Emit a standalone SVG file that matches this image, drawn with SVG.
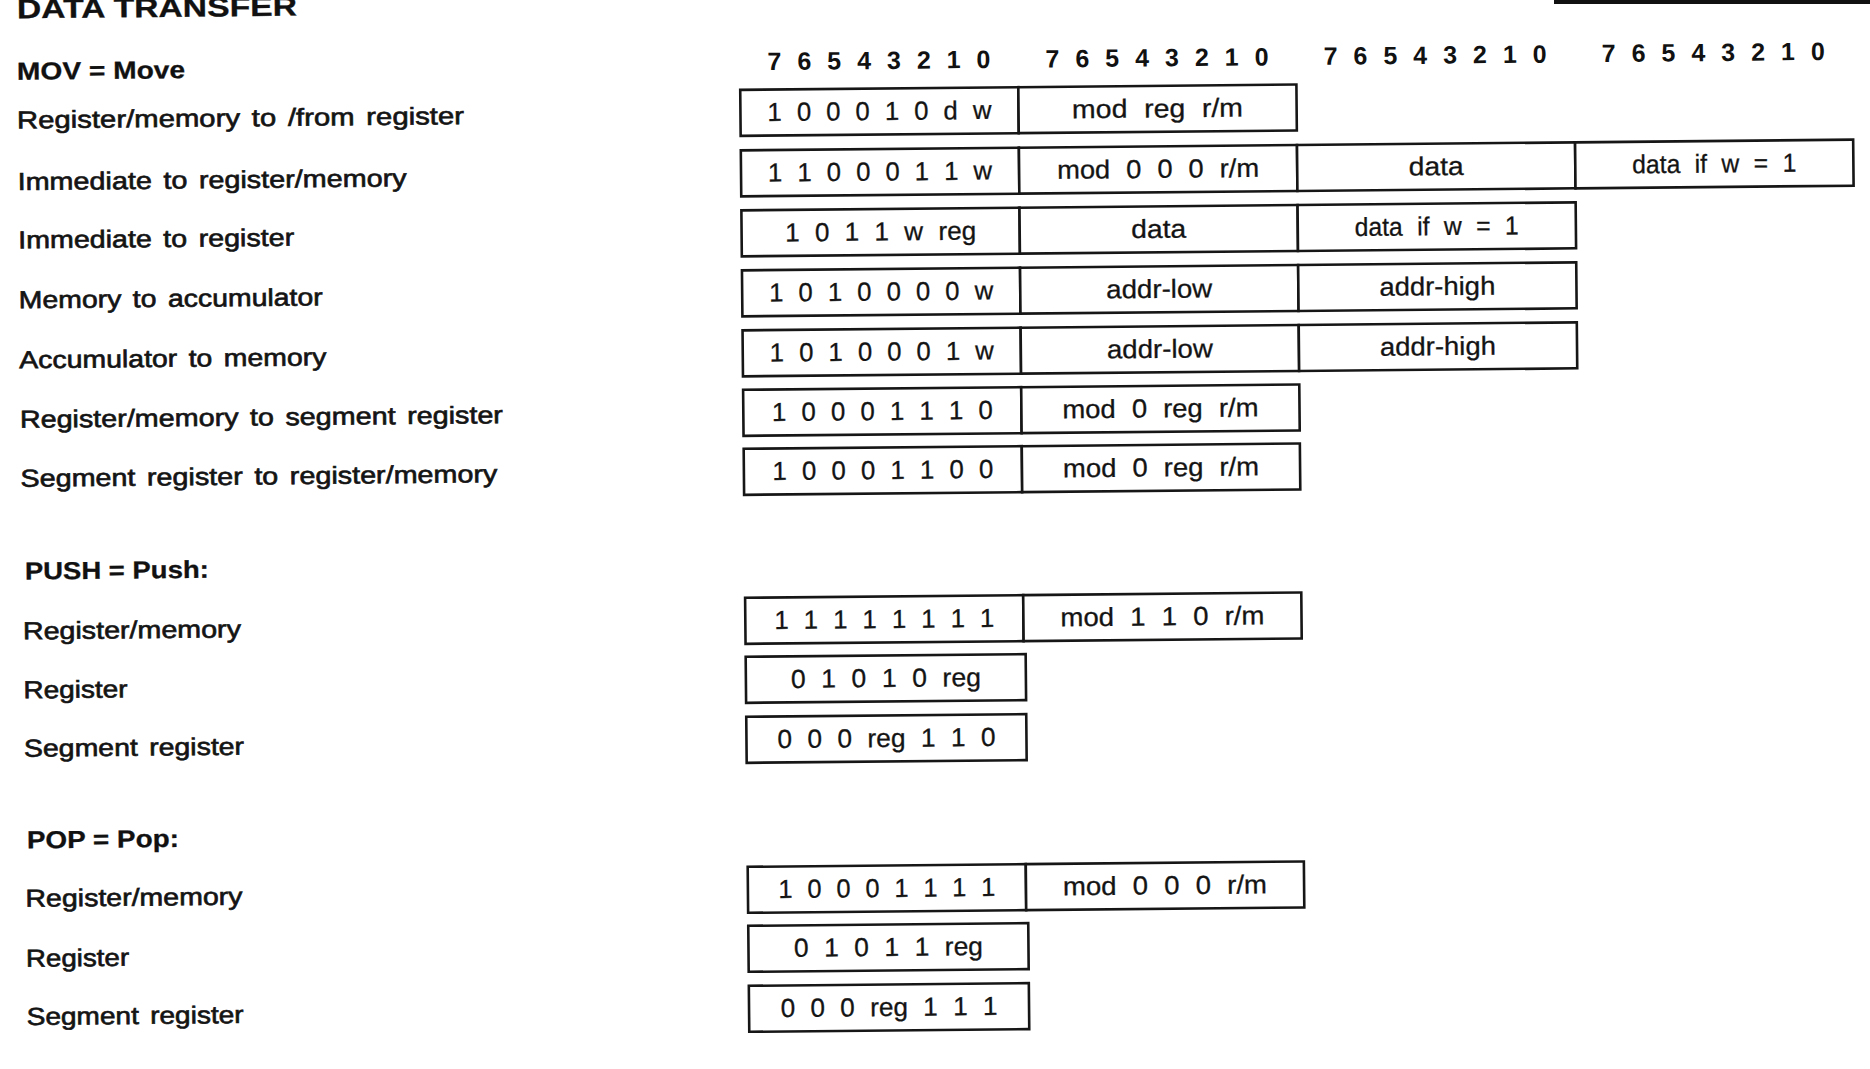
<svg xmlns="http://www.w3.org/2000/svg" width="1870" height="1069" viewBox="0 0 1870 1069">
  <style>
    .bg { fill: #ffffff; }
    .box { fill: #ffffff; stroke: #161616; stroke-width: 2.6; }
    .bits { font-family: "Liberation Sans", Arial, sans-serif; font-size: 26px; fill: #141414; stroke: #141414; stroke-width: 0.3; text-anchor: middle; word-spacing: 8px; }
    .hdr { font-family: "Liberation Sans", Arial, sans-serif; font-size: 25px; font-weight: bold; fill: #111; text-anchor: middle; }
    .lbl { font-family: "Liberation Sans", Arial, sans-serif; font-size: 24.5px; fill: #141414; stroke: #141414; stroke-width: 0.65; word-spacing: 3px; }
    .sec { font-family: "Liberation Sans", Arial, sans-serif; font-size: 24.5px; font-weight: bold; fill: #111; stroke: #111; stroke-width: 0.3; }
    .title { font-family: "Liberation Sans", Arial, sans-serif; font-size: 27px; font-weight: bold; fill: #111; stroke: #111; stroke-width: 0.3; }
    .rule { fill: #111; }
  </style>

  <rect class="bg" x="0" y="0" width="1870" height="1069"/>

  <!-- rule at the top right edge of the sheet -->
  <rect class="rule" x="1554" y="0" width="316" height="4"/>

  <!-- the printed sheet sits a little askew -->
  <g id="sheet" transform="rotate(-0.55 935 534)">

    <text class="title" x="22" y="9.5" textLength="280" lengthAdjust="spacingAndGlyphs">DATA TRANSFER</text>

    <!-- bit numbering above the four byte columns -->
    <g id="bit-header">
      <text class="hdr" x="883.5" y="68.5" textLength="223" lengthAdjust="spacing">7 6 5 4 3 2 1 0</text>
      <text class="hdr" x="1161.6" y="68.5" textLength="223" lengthAdjust="spacing">7 6 5 4 3 2 1 0</text>
      <text class="hdr" x="1439.7" y="68.5" textLength="223" lengthAdjust="spacing">7 6 5 4 3 2 1 0</text>
      <text class="hdr" x="1717.8" y="68.5" textLength="223" lengthAdjust="spacing">7 6 5 4 3 2 1 0</text>
    </g>

    <!-- MOV -->
    <text class="sec" x="21.5" y="71" textLength="168" lengthAdjust="spacingAndGlyphs">MOV = Move</text>

    <g id="mov-rm-reg">
      <text class="lbl" x="21" y="119.6" textLength="447" lengthAdjust="spacingAndGlyphs">Register/memory to /from register</text>
      <rect class="box" x="744.5" y="88" width="278.1" height="46"/>
      <rect class="box" x="1022.6" y="88" width="278.1" height="46"/>
      <text class="bits" x="883.5" y="119.5" textLength="224" lengthAdjust="spacingAndGlyphs">1 0 0 0 1 0 d w</text>
      <text class="bits" x="1161.6" y="119.5" textLength="171" lengthAdjust="spacingAndGlyphs">mod reg r/m</text>
    </g>

    <g id="mov-imm-rm">
      <text class="lbl" x="21" y="181.3" textLength="389" lengthAdjust="spacingAndGlyphs">Immediate to register/memory</text>
      <rect class="box" x="744.5" y="148.5" width="278.1" height="46"/>
      <rect class="box" x="1022.6" y="148.5" width="278.1" height="46"/>
      <rect class="box" x="1300.7" y="148.5" width="278.1" height="46"/>
      <rect class="box" x="1578.8" y="148.5" width="278.1" height="46"/>
      <text class="bits" x="883.5" y="180" textLength="224" lengthAdjust="spacingAndGlyphs">1 1 0 0 0 1 1 w</text>
      <text class="bits" x="1161.6" y="180" textLength="202" lengthAdjust="spacingAndGlyphs">mod 0 0 0 r/m</text>
      <text class="bits" x="1439.7" y="180" textLength="55" lengthAdjust="spacingAndGlyphs">data</text>
      <text class="bits" x="1717.8" y="180" textLength="164" lengthAdjust="spacingAndGlyphs">data if w = 1</text>
    </g>

    <g id="mov-imm-reg">
      <text class="lbl" x="21" y="239.6" textLength="276" lengthAdjust="spacingAndGlyphs">Immediate to register</text>
      <rect class="box" x="744.5" y="208.5" width="278.1" height="46"/>
      <rect class="box" x="1022.6" y="208.5" width="278.1" height="46"/>
      <rect class="box" x="1300.7" y="208.5" width="278.1" height="46"/>
      <text class="bits" x="883.5" y="240" textLength="191" lengthAdjust="spacingAndGlyphs">1 0 1 1 w reg</text>
      <text class="bits" x="1161.6" y="240" textLength="55" lengthAdjust="spacingAndGlyphs">data</text>
      <text class="bits" x="1439.7" y="240" textLength="164" lengthAdjust="spacingAndGlyphs">data if w = 1</text>
    </g>

    <g id="mov-mem-acc">
      <text class="lbl" x="21" y="299.5" textLength="304" lengthAdjust="spacingAndGlyphs">Memory to accumulator</text>
      <rect class="box" x="744.5" y="268.5" width="278.1" height="46"/>
      <rect class="box" x="1022.6" y="268.5" width="278.1" height="46"/>
      <rect class="box" x="1300.7" y="268.5" width="278.1" height="46"/>
      <text class="bits" x="883.5" y="300" textLength="224" lengthAdjust="spacingAndGlyphs">1 0 1 0 0 0 0 w</text>
      <text class="bits" x="1161.6" y="300" textLength="106" lengthAdjust="spacingAndGlyphs">addr-low</text>
      <text class="bits" x="1439.7" y="300" textLength="116" lengthAdjust="spacingAndGlyphs">addr-high</text>
    </g>

    <g id="mov-acc-mem">
      <text class="lbl" x="21" y="359.5" textLength="307" lengthAdjust="spacingAndGlyphs">Accumulator to memory</text>
      <rect class="box" x="744.5" y="328.5" width="278.1" height="46"/>
      <rect class="box" x="1022.6" y="328.5" width="278.1" height="46"/>
      <rect class="box" x="1300.7" y="328.5" width="278.1" height="46"/>
      <text class="bits" x="883.5" y="360" textLength="224" lengthAdjust="spacingAndGlyphs">1 0 1 0 0 0 1 w</text>
      <text class="bits" x="1161.6" y="360" textLength="106" lengthAdjust="spacingAndGlyphs">addr-low</text>
      <text class="bits" x="1439.7" y="360" textLength="116" lengthAdjust="spacingAndGlyphs">addr-high</text>
    </g>

    <g id="mov-rm-seg">
      <text class="lbl" x="21" y="419" textLength="483" lengthAdjust="spacingAndGlyphs">Register/memory to segment register</text>
      <rect class="box" x="744.5" y="388" width="278.1" height="46"/>
      <rect class="box" x="1022.6" y="388" width="278.1" height="46"/>
      <text class="bits" x="883.5" y="419.5" textLength="221" lengthAdjust="spacingAndGlyphs">1 0 0 0 1 1 1 0</text>
      <text class="bits" x="1161.6" y="419.5" textLength="196" lengthAdjust="spacingAndGlyphs">mod 0 reg r/m</text>
    </g>

    <g id="mov-seg-rm">
      <text class="lbl" x="21" y="478" textLength="477" lengthAdjust="spacingAndGlyphs">Segment register to register/memory</text>
      <rect class="box" x="744.5" y="447" width="278.1" height="46"/>
      <rect class="box" x="1022.6" y="447" width="278.1" height="46"/>
      <text class="bits" x="883.5" y="478.5" textLength="221" lengthAdjust="spacingAndGlyphs">1 0 0 0 1 1 0 0</text>
      <text class="bits" x="1161.6" y="478.5" textLength="196" lengthAdjust="spacingAndGlyphs">mod 0 reg r/m</text>
    </g>

    <!-- PUSH -->
    <text class="sec" x="24.5" y="570.8" textLength="184" lengthAdjust="spacingAndGlyphs">PUSH = Push:</text>

    <g id="push-rm">
      <text class="lbl" x="22" y="630.6" textLength="218" lengthAdjust="spacingAndGlyphs">Register/memory</text>
      <rect class="box" x="744.5" y="596" width="278.1" height="46"/>
      <rect class="box" x="1022.6" y="596" width="278.1" height="46"/>
      <text class="bits" x="883.5" y="627.5" textLength="220" lengthAdjust="spacingAndGlyphs">1 1 1 1 1 1 1 1</text>
      <text class="bits" x="1161.6" y="627.5" textLength="204" lengthAdjust="spacingAndGlyphs">mod 1 1 0 r/m</text>
    </g>

    <g id="push-reg">
      <text class="lbl" x="22" y="689.6" textLength="104" lengthAdjust="spacingAndGlyphs">Register</text>
      <rect class="box" x="744.5" y="655" width="280" height="46"/>
      <text class="bits" x="884.5" y="686.5" textLength="190" lengthAdjust="spacingAndGlyphs">0 1 0 1 0 reg</text>
    </g>

    <g id="push-seg">
      <text class="lbl" x="22" y="748" textLength="220" lengthAdjust="spacingAndGlyphs">Segment register</text>
      <rect class="box" x="744.5" y="715" width="280" height="46"/>
      <text class="bits" x="884.5" y="746.5" textLength="218" lengthAdjust="spacingAndGlyphs">0 0 0 reg 1 1 0</text>
    </g>

    <!-- POP -->
    <text class="sec" x="24" y="839.6" textLength="152" lengthAdjust="spacingAndGlyphs">POP = Pop:</text>

    <g id="pop-rm">
      <text class="lbl" x="22" y="898" textLength="217" lengthAdjust="spacingAndGlyphs">Register/memory</text>
      <rect class="box" x="744.5" y="865" width="278.1" height="46"/>
      <rect class="box" x="1022.6" y="865" width="278.1" height="46"/>
      <text class="bits" x="883.5" y="896.5" textLength="217" lengthAdjust="spacingAndGlyphs">1 0 0 0 1 1 1 1</text>
      <text class="bits" x="1161.6" y="896.5" textLength="204" lengthAdjust="spacingAndGlyphs">mod 0 0 0 r/m</text>
    </g>

    <g id="pop-reg">
      <text class="lbl" x="22" y="958" textLength="103" lengthAdjust="spacingAndGlyphs">Register</text>
      <rect class="box" x="744.5" y="924" width="280" height="46"/>
      <text class="bits" x="884.5" y="955.5" textLength="189" lengthAdjust="spacingAndGlyphs">0 1 0 1 1 reg</text>
    </g>

    <g id="pop-seg">
      <text class="lbl" x="22" y="1016.3" textLength="217" lengthAdjust="spacingAndGlyphs">Segment register</text>
      <rect class="box" x="744.5" y="984" width="280" height="46"/>
      <text class="bits" x="884.5" y="1015.5" textLength="217" lengthAdjust="spacingAndGlyphs">0 0 0 reg 1 1 1</text>
    </g>

  </g>

  <!-- no connectors in this figure -->
  <g id="connectors"/>
</svg>
